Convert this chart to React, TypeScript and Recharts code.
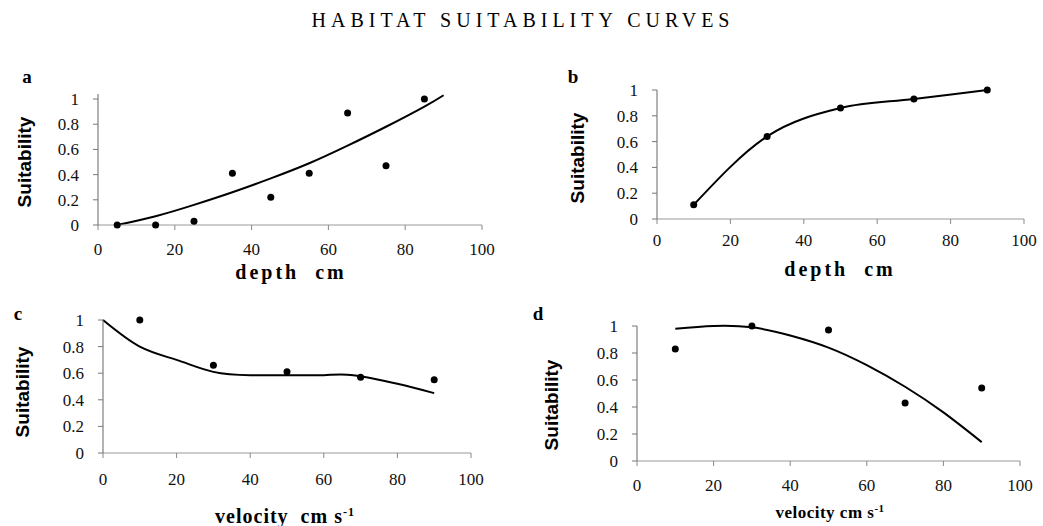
import React from 'react';
import { ComposedChart, Line, Scatter, XAxis, YAxis } from 'recharts';

const X_TICKS = [0, 20, 40, 60, 80, 100];
const Y_TICKS = [0, 0.2, 0.4, 0.6, 0.8, 1];

// a: depth, fitted curve + observations
const depthA = [5, 15, 25, 35, 45, 55, 65, 75, 85];
const suitA = [0, 0, 0.03, 0.41, 0.22, 0.41, 0.89, 0.47, 1.0];
const curveAX = [5, 15, 25, 35, 45, 55, 65, 75, 85, 90];
const curveAY = [0, 0.07, 0.16, 0.26, 0.37, 0.49, 0.63, 0.78, 0.94, 1.03];

// b: depth, line through points
const depthB = [10, 30, 50, 70, 90];
const suitB = [0.11, 0.64, 0.86, 0.93, 1.0];

// c: velocity
const velC = [10, 30, 50, 70, 90];
const suitC = [1.0, 0.66, 0.61, 0.57, 0.55];
const curveCX = [0, 10, 20, 30, 40, 50, 60, 68, 80, 90];
const curveCY = [1.0, 0.8, 0.7, 0.61, 0.585, 0.585, 0.585, 0.585, 0.52, 0.45];

// d: velocity
const velD = [10, 30, 50, 70, 90];
const suitD = [0.83, 1.0, 0.97, 0.43, 0.54];
const curveDX = [10, 20, 30, 40, 50, 60, 70, 80, 90];
const curveDY = [0.98, 1.0, 0.99, 0.93, 0.84, 0.71, 0.55, 0.36, 0.14];

const zip = (xs: number[], ys: number[]) => xs.map((x, i) => ({ x, y: ys[i] }));

const SERIF = "'Liberation Serif', 'Times New Roman', serif";
const NARROW = "'Liberation Sans Narrow', 'Liberation Sans', Arial, sans-serif";

const Dot = (p: any) => <circle cx={p.cx} cy={p.cy} r={3.5} fill="#000" />;

interface PanelProps {
  left: number; top: number; w: number; h: number; yMax?: number; xMargin: number;
  points: { x: number; y: number }[];
  curve?: { x: number; y: number }[];
  joined?: boolean;
}

function Panel({ left, top, w, h, yMax = 1, xMargin, points, curve, joined }: PanelProps) {
  const tick = { fontSize: 17, fill: '#111', fontFamily: SERIF };
  return (
    <div style={{ position: 'absolute', left, top, fontFamily: SERIF, fontSize: 17 }}>
      <ComposedChart width={w + 80} height={h + 70} margin={{ top: 20, right: 20, left: 0, bottom: 0 }}
        style={{ fontFamily: SERIF, fontSize: 17 }}>
        <XAxis type="number" dataKey="x" domain={[0, 100]} ticks={X_TICKS} height={50}
          stroke="#999" tickLine={{ stroke: '#888' }} tickSize={5} tickMargin={xMargin}
          tick={tick} fontSize={17} fontFamily={SERIF} />
        <YAxis type="number" dataKey="y" domain={[0, yMax]} ticks={Y_TICKS} width={60}
          stroke="#666" tickLine={{ stroke: '#777' }} tickSize={5} tickMargin={14}
          tick={tick} fontSize={17} fontFamily={SERIF} tickFormatter={(v: number) => String(v)} />
        {curve && (
          <Line data={curve} dataKey="y" type="natural" stroke="#000" strokeWidth={2}
            dot={false} isAnimationActive={false} />
        )}
        {joined ? (
          <Line data={points} dataKey="y" type="monotone" stroke="#000" strokeWidth={2}
            dot={<Dot />} isAnimationActive={false} />
        ) : (
          <Scatter data={points} dataKey="y" fill="#000" shape={<Dot />} isAnimationActive={false} />
        )}
      </ComposedChart>
    </div>
  );
}

const yTitle = (x: number, y: number) => (
  <div style={{
    position: 'absolute', left: x, top: y, transform: 'translate(-50%, -50%) rotate(-90deg)',
    fontFamily: NARROW, fontWeight: 700, fontSize: 19, whiteSpace: 'nowrap',
  }}>Suitability</div>
);

const xTitle = (x: number, y: number, content: React.ReactNode, size = 20, spacing = 1) => (
  <div style={{
    position: 'absolute', left: x, top: y, transform: 'translate(-50%, -50%)',
    fontFamily: SERIF, fontWeight: 700, fontSize: size, letterSpacing: spacing, whiteSpace: 'pre',
  }}>{content}</div>
);

const letter = (x: number, y: number, t: string) => (
  <div style={{
    position: 'absolute', left: x, top: y, transform: 'translate(-50%, -50%)',
    fontFamily: SERIF, fontWeight: 700, fontSize: 19,
  }}>{t}</div>
);

export default function App() {
  return (
    <div style={{ position: 'absolute', left: 0, top: 0, width: 1043, height: 526, background: '#fff', color: '#000', fontFamily: SERIF }}>
      <div style={{
        position: 'absolute', left: 523, top: 20, transform: 'translate(-50%, -50%)',
        fontFamily: SERIF, fontSize: 20, letterSpacing: 5, whiteSpace: 'nowrap',
      }}>HABITAT SUITABILITY CURVES</div>

      <Panel left={38} top={74} w={384} h={131} yMax={1.04} xMargin={13} points={zip(depthA, suitA)} curve={zip(curveAX, curveAY)} />
      <Panel left={597} top={70} w={367} h={129} xMargin={10} points={zip(depthB, suitB)} joined />
      <Panel left={43} top={300} w={368} h={133} xMargin={15} points={zip(velC, suitC)} curve={zip(curveCX, curveCY)} />
      <Panel left={577} top={306} w={383} h={135} xMargin={13} points={zip(velD, suitD)} curve={zip(curveDX, curveDY)} />

      {letter(27, 77, 'a')}
      {letter(573, 77, 'b')}
      {letter(18, 314, 'c')}
      {letter(538, 314, 'd')}

      {yTitle(25, 162)}
      {yTitle(578, 158)}
      {yTitle(23, 392)}
      {yTitle(552, 405)}

      {xTitle(291, 272, 'depth  cm', 20, 3)}
      {xTitle(840, 269, 'depth  cm', 20, 3)}
      {xTitle(285, 516, <span>velocity  cm s<sup style={{ fontSize: 12 }}>-1</sup></span>)}
      {xTitle(830, 512, <span>velocity cm s<sup style={{ fontSize: 11 }}>-1</sup></span>, 17, 0.5)}
    </div>
  );
}
